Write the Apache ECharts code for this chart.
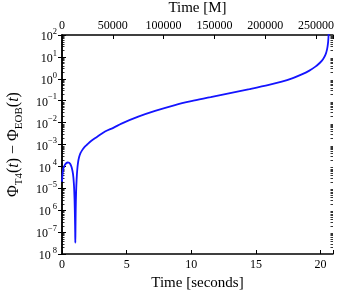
<!DOCTYPE html>
<html>
<head>
<meta charset="utf-8">
<script src="https://cdn.jsdelivr.net/npm/echarts@6/dist/echarts.min.js"></script>
<style>html,body{margin:0;padding:0;background:#fff}#c{width:355px;height:291px}</style>
</head>
<body>
<div id="c"></div>
<script>
// time in seconds
var times = [0, 0.05, 0.1, 0.2, 0.3, 0.45, 0.55, 0.65, 0.75, 0.85, 0.92, 0.97, 1.0, 1.02, 1.03, 1.04, 1.06, 1.09, 1.13, 1.18, 1.24, 1.32, 1.42, 1.55, 1.72, 1.95, 2.25, 2.7, 3.33, 4.0, 4.6, 5.9, 7.2, 8.74, 10, 11.5, 13, 14.5, 16, 17, 17.8, 18.5, 19.1, 19.6, 19.95, 20.2, 20.38, 20.5, 20.57, 20.61, 20.64];
// phase difference
var phaseDiff = [2.0e-5, 5.0e-5, 7.9e-5, 1.12e-4, 1.35e-4, 1.51e-4, 1.48e-4, 1.26e-4, 8.9e-5, 4.5e-5, 1.6e-5, 3.2e-6, 5.0e-7, 1.0e-7, 3.3e-8, 1.0e-7, 1.0e-6, 6.3e-6, 2.5e-5, 7.0e-5, 1.5e-4, 2.6e-4, 3.9e-4, 5.4e-4, 7.4e-4, 1.0e-3, 1.45e-3, 2.2e-3, 3.9e-3, 5.9e-3, 9.0e-3, 1.86e-2, 3.4e-2, 6.3e-2, 9.5e-2, 0.145, 0.224, 0.339, 0.525, 0.74, 1.05, 1.55, 2.3, 3.6, 5.4, 8.0, 12.6, 22, 40, 79, 158];
var xTicksSeconds = [0, 5, 10, 15, 20];
var xTicksM = [0, 50000, 100000, 150000, 200000, 250000];
var yExponents = [2, 1, 0, -1, -2, -3, -4, -5, -6, -7, -8];
var xMaxSeconds = 20.96;
var xMaxM = 266700;

var supText = {};
yExponents.forEach(function (e) {
  // reference renders the minus sign missing for -4, -6, -8
  supText[e] = (e === -4 || e === -6 || e === -8) ? ' ' + Math.abs(e) : (e < 0 ? '\u2212' + Math.abs(e) : String(e));
});

var minorVals = [];
for (var e = -8; e < 2; e++) {
  for (var k = 2; k <= 9; k++) minorVals.push([0, k * Math.pow(10, e)]);
}

var serif = 'Liberation Serif';
var chart = echarts.init(document.getElementById('c'), null, {renderer: 'canvas'});
chart.setOption({
  animation: false,
  grid: {left: 62, right: 22, top: 35, bottom: 37, containLabel: false, outerBoundsMode: 'none'},
  xAxis: [{
    type: 'value', min: 0, max: xMaxSeconds, interval: 5, position: 'bottom',
    name: 'Time [seconds]', nameLocation: 'middle', nameGap: 22,
    nameTextStyle: {fontFamily: serif, fontSize: 15, color: '#000'},
    axisLine: {lineStyle: {color: '#000', width: 1.5}},
    axisTick: {inside: true, length: 4, lineStyle: {color: '#000', width: 1}},
    axisLabel: {fontFamily: serif, fontSize: 12, color: '#000', margin: 5,
      formatter: function (v) { return xTicksSeconds.indexOf(v) >= 0 ? String(v) : ''; }},
    splitLine: {show: false}
  }, {
    type: 'value', min: 0, max: xMaxM, interval: 50000, position: 'top',
    name: 'Time [M]', nameLocation: 'middle', nameGap: 12,
    nameTextStyle: {fontFamily: serif, fontSize: 15, color: '#000'},
    axisLine: {lineStyle: {color: '#000', width: 1.5}},
    axisTick: {inside: true, length: 4, lineStyle: {color: '#000', width: 1}},
    axisLabel: {fontFamily: serif, fontSize: 12, color: '#000', margin: 3,
      formatter: function (v) { return xTicksM.indexOf(v) >= 0 ? String(v) : ''; }},
    splitLine: {show: false}
  }],
  yAxis: [{
    type: 'log', logBase: 10, min: 1e-8, max: 100, interval: 1,
    name: '\u03A6{sub|T4}({it|t}) \u2212 \u03A6{sub|EOB}({it|t})',
    nameLocation: 'middle', nameGap: 37, nameRotate: 90,
    nameTextStyle: {fontFamily: serif, fontSize: 16, color: '#000', lineHeight: 22,
      rich: {
        sub: {fontFamily: serif, fontSize: 11, color: '#000', verticalAlign: 'bottom', lineHeight: 22, padding: [8, 0, 0, 0]},
        it: {fontFamily: serif, fontStyle: 'italic', fontSize: 16, color: '#000', lineHeight: 22}
      }},
    axisLine: {lineStyle: {color: '#000', width: 1.5}},
    axisTick: {inside: true, length: 4, lineStyle: {color: '#000', width: 1}},
    axisLabel: {fontFamily: serif, fontSize: 12, color: '#000', margin: 5,
      formatter: function (v) {
        var ex = Math.round(Math.log10(v));
        return '{b|10}{s|' + supText[ex] + '}';
      },
      rich: {
        b: {fontFamily: serif, fontSize: 12, color: '#000', lineHeight: 16, verticalAlign: 'bottom'},
        s: {fontFamily: serif, fontSize: 8.5, color: '#000', lineHeight: 16, verticalAlign: 'top'}
      }},
    splitLine: {show: false}
  }, {
    type: 'log', logBase: 10, min: 1e-8, max: 100, interval: 1, position: 'right',
    axisLine: {lineStyle: {color: '#000', width: 1.5}},
    axisTick: {inside: true, length: 4, lineStyle: {color: '#000', width: 1}},
    axisLabel: {show: false},
    splitLine: {show: false}
  }],
  series: [{
    type: 'line', xAxisIndex: 0, yAxisIndex: 0,
    data: times.map(function (t, i) { return [t, phaseDiff[i]]; }),
    showSymbol: false, smooth: 0.3,
    lineStyle: {color: '#1414ff', width: 1.8},
    clip: true, silent: true
  }, {
    type: 'custom', xAxisIndex: 0, yAxisIndex: 0, silent: true, clip: false,
    data: minorVals,
    renderItem: function (params, api) {
      var p = api.coord([0, api.value(1)]);
      var cs = params.coordSys;
      var y = Math.round(p[1]) + 0.5;
      return {type: 'group', children: [
        {type: 'line', shape: {x1: cs.x, y1: y, x2: cs.x + 2.5, y2: y}, style: {stroke: '#000', lineWidth: 0.8}},
        {type: 'line', shape: {x1: cs.x + cs.width - 2.5, y1: y, x2: cs.x + cs.width, y2: y}, style: {stroke: '#000', lineWidth: 0.8}}
      ]};
    }
  }]
});
</script>
</body>
</html>
